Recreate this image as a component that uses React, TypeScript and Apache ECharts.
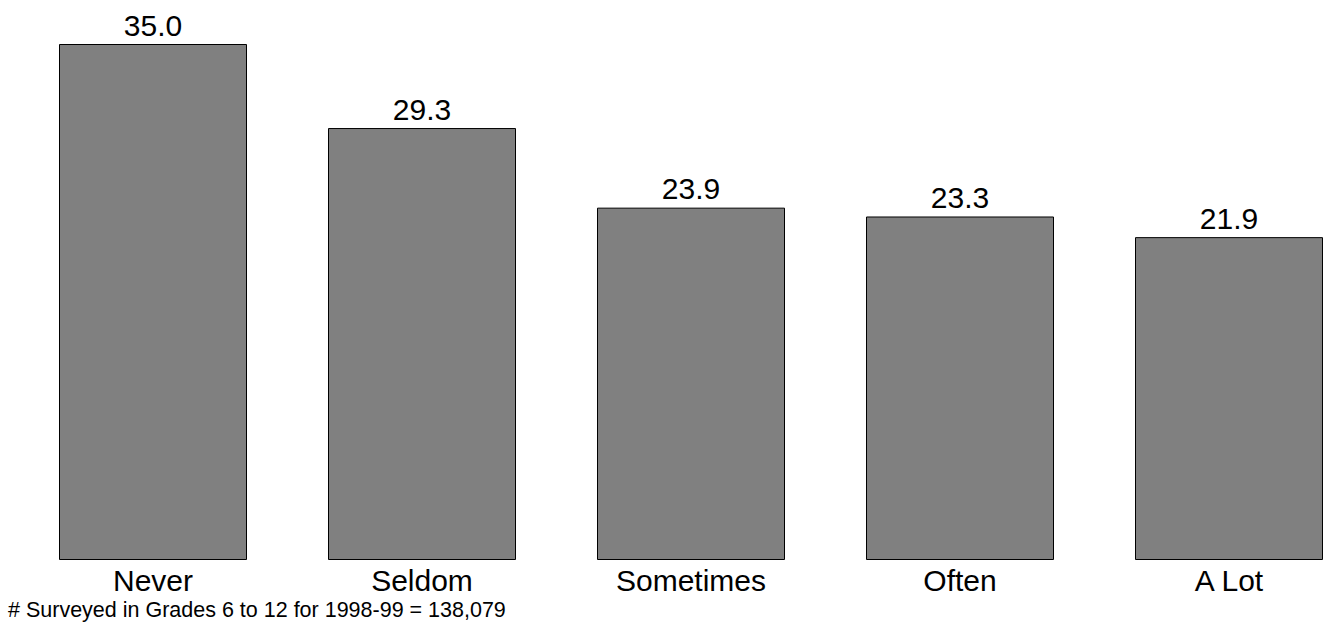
import React, { useEffect, useRef } from "react";
import * as echarts from "echarts";

const categories = ["Never", "Seldom", "Sometimes", "Often", "A Lot"];
const values = [35.0, 29.3, 23.9, 23.3, 21.9];
const footnote = "# Surveyed in Grades 6 to 12 for 1998-99 = 138,079";

const FONT = "'Liberation Sans', Arial, Helvetica, sans-serif";

export default function App() {
  const ref = useRef<HTMLDivElement>(null);
  useEffect(() => {
    const chart = echarts.init(ref.current!, null, { renderer: "svg" });
    chart.setOption({
      animation: false,
      backgroundColor: "#ffffff",
      grid: {
        left: 18.5,
        top: 44,
        width: 1345,
        bottom: 75,
        containLabel: false,
        outerBoundsMode: "none",
      },
      xAxis: {
        type: "category",
        data: categories,
        axisLine: { show: false },
        axisTick: { show: false },
        axisLabel: {
          color: "#000",
          fontFamily: FONT,
          fontSize: 30,
          margin: 20,
          verticalAlign: "middle",
        },
      },
      yAxis: {
        type: "value",
        min: 0,
        max: 35,
        show: false,
        splitLine: { show: false },
      },
      series: [
        {
          type: "bar",
          data: values,
          barWidth: 188,
          itemStyle: { color: "#808080", borderColor: "#000", borderWidth: 1 },
          label: {
            show: true,
            position: "top",
            distance: 4,
            color: "#000",
            fontFamily: FONT,
            fontSize: 30,
            formatter: (p: any) => Number(p.value).toFixed(1),
          },
        },
      ],
      graphic: [
        {
          type: "text",
          left: 8,
          top: 599,
          style: {
            text: footnote,
            fill: "#000",
            font: `21.5px ${FONT}`,
          },
        },
      ],
    });
    return () => chart.dispose();
  }, []);
  return (
    <div
      ref={ref}
      style={{ position: "fixed", left: 0, top: 0, width: 1331, height: 635 }}
    />
  );
}
